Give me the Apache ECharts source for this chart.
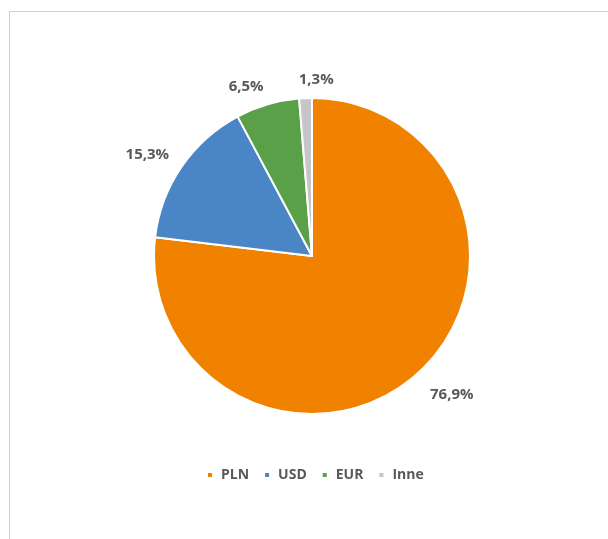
<!DOCTYPE html>
<html><head><meta charset="utf-8">
<script src="https://cdn.jsdelivr.net/npm/echarts@6/dist/echarts.min.js"></script>
<style>
html,body{margin:0;padding:0;background:#fff;width:608px;height:539px;overflow:hidden}
#frame{position:absolute;left:9px;top:11px;width:620px;height:560px;border:1px solid #d0d0d0;box-sizing:border-box}
#c{position:absolute;left:0;top:0;width:608px;height:539px}
</style></head>
<body>
<div id="frame"></div>
<div id="c"></div>
<script>
const categories = ['PLN', 'USD', 'EUR', 'Inne'];
const values = [76.9, 15.3, 6.5, 1.3];
const colors = ['#F08200', '#4A86C6', '#59A049', '#C6C6CA'];
// label fine-tuning (style only)
const labelOffsets = [[13, -4], [-7, 7], [-12, 14], [12, 15]];

const fmt = v => v.toFixed(1).replace('.', ',') + '%';

const chart = echarts.init(document.getElementById('c'));
chart.setOption({
  animation: false,
  color: colors,
  legend: {
    data: categories,
    top: 468,
    left: 206,
    padding: 0,
    itemWidth: 6,
    itemHeight: 6,
    itemGap: 14,
    icon: 'rect',
    textStyle: {color: '#595959', fontSize: 14, fontWeight: 'bold', fontFamily: 'Open Sans', padding: [0, 0, 0, 3]}
  },
  series: [{
    type: 'pie',
    center: [312, 256],
    radius: 158,
    startAngle: 90,
    clockwise: true,
    itemStyle: {borderColor: '#fff', borderWidth: 2},
    label: {show: false},
    labelLine: {show: false},
    data: categories.map((c, i) => ({name: c, value: values[i]}))
  }, {
    type: 'pie',
    center: [312, 256],
    radius: [178, 198],
    startAngle: 90,
    clockwise: true,
    silent: true,
    legendHoverLink: false,
    itemStyle: {color: 'rgba(0,0,0,0)', borderWidth: 0},
    label: {
      show: true,
      position: 'inside',
      formatter: p => fmt(p.value),
      color: '#595959',
      fontSize: 15,
      fontWeight: 'bold',
      fontFamily: 'Open Sans'
    },
    labelLine: {show: false},
    data: categories.map((c, i) => ({
      name: c, value: values[i],
      label: {offset: labelOffsets[i]}
    }))
  }]
});
</script>
</body></html>
